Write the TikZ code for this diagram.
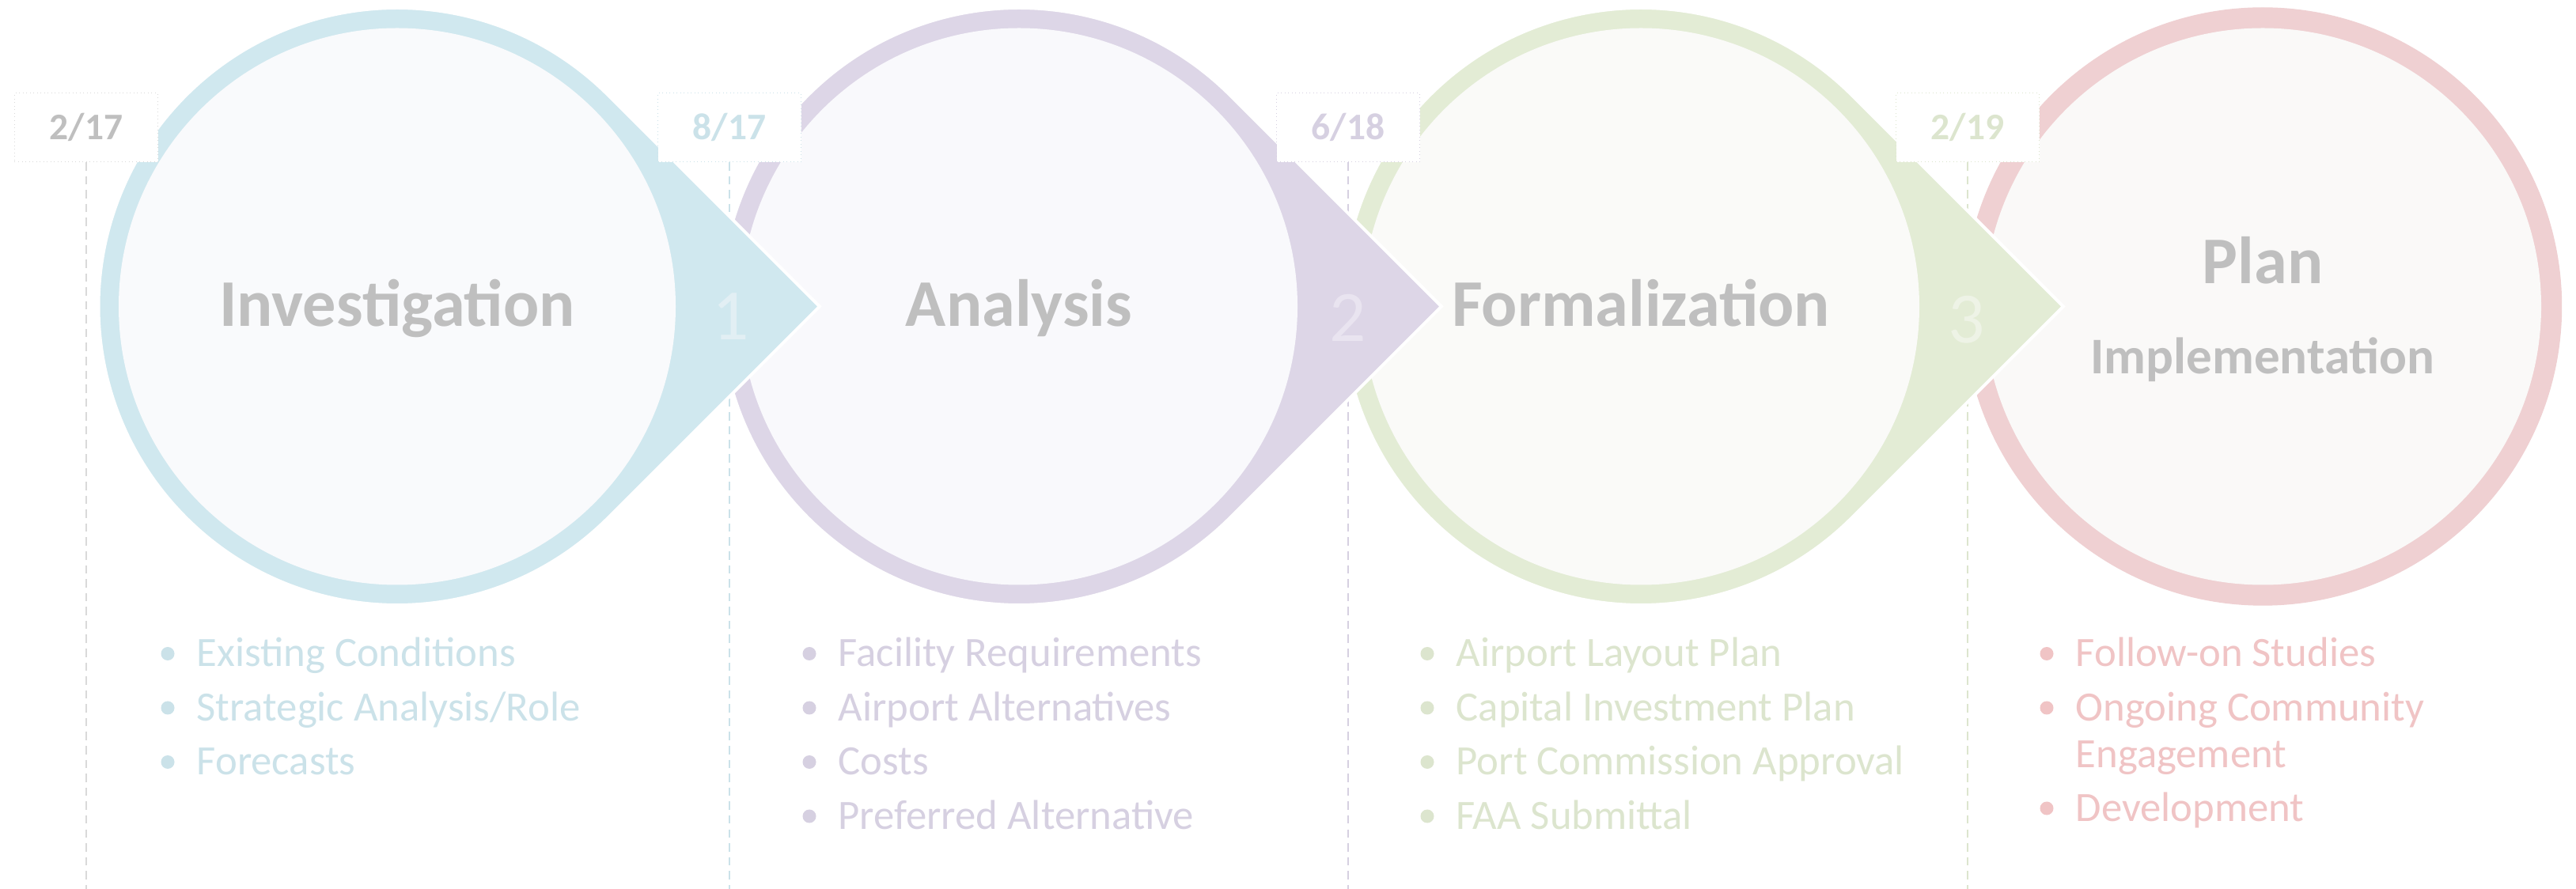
\documentclass[tikz,border=0pt]{standalone}
\usepackage{fontspec}
\setmainfont{Carlito}
\definecolor{invRing}{HTML}{D0E8EF}
\definecolor{invFill}{HTML}{F9FAFC}
\definecolor{invText}{HTML}{CBE2E9}
\definecolor{invNum}{HTML}{E2EFF4}
\definecolor{anaRing}{HTML}{DDD6E7}
\definecolor{anaFill}{HTML}{F9F9FC}
\definecolor{anaText}{HTML}{D6D0E1}
\definecolor{anaNum}{HTML}{E9E4F0}
\definecolor{forRing}{HTML}{E3ECD5}
\definecolor{forFill}{HTML}{FAFAF8}
\definecolor{forText}{HTML}{DCE5CE}
\definecolor{forNum}{HTML}{EEF3E6}
\definecolor{plaRing}{HTML}{EFD0D2}
\definecolor{plaFill}{HTML}{FAF9F8}
\definecolor{plaText}{HTML}{F0C4C5}
\definecolor{titleGray}{HTML}{BFBFBF}
\definecolor{lineGray}{HTML}{D9D9D9}
\tikzset{
    title/.style={font=\bfseries\fontsize{24}{28}\selectfont, text=titleGray, inner sep=0pt, anchor=base},
    subtitle/.style={font=\bfseries\fontsize{18.5}{22}\selectfont, text=titleGray, inner sep=0pt, anchor=base},
    stepnum/.style={font=\fontsize{26}{30}\selectfont, inner sep=0pt, anchor=base},
    datebox/.style={draw=#1, densely dotted, line width=0.01cm, fill=white, minimum width=1.81cm, minimum height=0.87cm, inner sep=0pt, text height=0.30cm, text depth=0pt, font=\bfseries\fontsize{13.5}{16}\selectfont},
    dashline/.style={draw=#1, densely dashed, line width=0.015cm},
    item/.style={font=\fontsize{15}{18}\selectfont, inner sep=0pt, anchor=base west}
}

\begin{document}
\begin{tikzpicture}
            \newcommand{\stage}[4]{
                \coordinate (#1) at (#2,-3.875);
                \filldraw[#3, draw=white, line width=0.04cm] ([shift={(45:3.775)}]#1) arc[start angle=45, end angle=315, radius=3.775] -- (#2+5.339,-3.875) -- cycle;
                \fill[#4] (#1) circle (3.52)
            }
            \newcommand{\stepitem}[5]{
                \fill[#4] (#2-0.36,#3+0.165) circle (0.085);
                \node[item, text=#4] (#1) at (#2,#3) {#5}
            }
            \fill[white] (0,0) rectangle (32.56,-11.24);
            \useasboundingbox (0,0) rectangle (32.56,-11.24);

            \coordinate (e1) at (1.09,-11.24);
            \coordinate (e2) at (9.22,-11.24);
            \coordinate (e3) at (17.04,-11.24);
            \coordinate (e4) at (24.87,-11.24);
            \draw[dashline=lineGray] (1.09,-2.05) -- (e1);
            \draw[dashline=invText] (9.22,-2.05) -- (e2);
            \draw[dashline=anaText] (17.04,-2.05) -- (e3);
            \draw[dashline=forText] (24.87,-2.05) -- (e4);

            \coordinate (cPla) at (28.60,-3.875);
            \filldraw[plaRing] (cPla) circle (3.775);
            \fill[plaFill] (cPla) circle (3.52);
            \stage{cFor}{20.74}{forRing}{forFill};
            \stage{cAna}{12.88}{anaRing}{anaFill};
            \stage{cInv}{5.02}{invRing}{invFill};

            \node[datebox=lineGray, text=titleGray] (d1) at (1.09,-1.615) {2/17};
            \node[datebox=invText, text=invText] (d2) at (9.22,-1.615) {8/17};
            \node[datebox=anaText, text=anaText] (d3) at (17.04,-1.615) {6/18};
            \node[datebox=forText, text=forText] (d4) at (24.87,-1.615) {2/19};

            \node[title] (tInv) at (5.02,-4.13) {Investigation};
            \node[title] (tAna) at (12.88,-4.13) {Analysis};
            \node[title] (tFor) at (20.74,-4.13) {Formalization};
            \node[title] (tPla) at (28.60,-3.59) {Plan};
            \node[subtitle] (tImp) at (28.60,-4.73) {Implementation};

            \node[stepnum, text=invNum] (n1) at (9.24,-4.30) {1};
            \node[stepnum, text=anaNum] (n2) at (17.04,-4.32) {2};
            \node[stepnum, text=forNum] (n3) at (24.86,-4.34) {3};

            \stepitem{i11}{2.48}{-8.43}{invText}{Existing Conditions};
            \stepitem{i12}{2.48}{-9.115}{invText}{Strategic Analysis/Role};
            \stepitem{i13}{2.48}{-9.80}{invText}{Forecasts};

            \stepitem{i21}{10.59}{-8.43}{anaText}{Facility Requirements};
            \stepitem{i22}{10.59}{-9.115}{anaText}{Airport Alternatives};
            \stepitem{i23}{10.59}{-9.80}{anaText}{Costs};
            \stepitem{i24}{10.59}{-10.485}{anaText}{Preferred Alternative};

            \stepitem{i31}{18.40}{-8.43}{forText}{Airport Layout Plan};
            \stepitem{i32}{18.40}{-9.115}{forText}{Capital Investment Plan};
            \stepitem{i33}{18.40}{-9.80}{forText}{Port Commission Approval};
            \stepitem{i34}{18.40}{-10.485}{forText}{FAA Submittal};

            \stepitem{i41}{26.23}{-8.43}{plaText}{Follow-on Studies};
            \stepitem{i42}{26.23}{-9.115}{plaText}{Ongoing Community};
            \node[item, text=plaText] (i42b) at (26.23,-9.705) {Engagement};
            \stepitem{i43}{26.23}{-10.385}{plaText}{Development};

        \end{tikzpicture}
\end{document}
